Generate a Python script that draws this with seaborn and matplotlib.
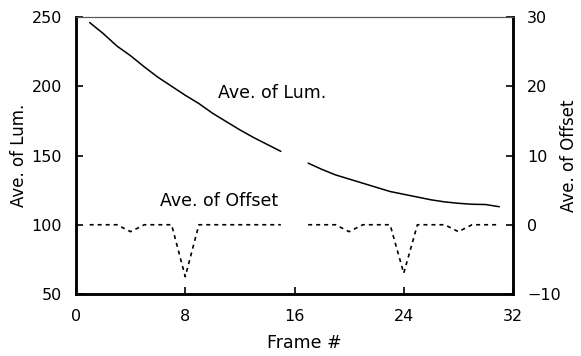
import numpy as np
import pandas as pd
import matplotlib
matplotlib.use("Agg")
import matplotlib.pyplot as plt
import seaborn as sns

# ---- data ----
frames_a = [1, 2, 3, 4, 5, 6, 7, 8, 9, 10, 11, 12, 13, 14, 15]
frames_b = [17, 18, 19, 20, 21, 22, 23, 24, 25, 26, 27, 28, 29, 30, 31]
lum_a = [246, 238, 229, 222, 214, 206.5, 200, 193.5, 187.5, 180.5, 174.5, 168.5, 163, 158, 153]
lum_b = [144.5, 140, 136, 133, 130, 127, 124, 122, 120, 118, 116.5, 115.5, 114.8, 114.6, 113]
off_a = [0, 0, 0, -1, 0, 0, 0, -7.5, 0, 0, 0, 0, 0, 0, 0]
off_b = [0, 0, 0, -1, 0, 0, 0, -7, 0, 0, 0, -1, 0, 0, 0]

x_ticks = [0, 8, 16, 24, 32]
lum_ticks = [50, 100, 150, 200, 250]
off_ticks = [-10, 0, 10, 20, 30]

df = pd.DataFrame({
    "frame": frames_a + frames_b,
    "lum": lum_a + lum_b,
    "off": off_a + off_b,
    "seg": ["a"] * len(frames_a) + ["b"] * len(frames_b),
})

sns.set_theme(style="white")
plt.rcParams["font.family"] = ["DejaVu Sans"]

fig = plt.figure(figsize=(5.81, 3.56), dpi=100)
ax = fig.add_axes([76 / 581, 1 - 294 / 356, (513 - 76) / 581, (294 - 17) / 356])
ax2 = ax.twinx()

sns.lineplot(data=df, x="frame", y="lum", units="seg", estimator=None,
             color="black", linewidth=1.1, ax=ax, legend=False)
sns.lineplot(data=df, x="frame", y="off", units="seg", estimator=None,
             color="black", linewidth=1.2, ax=ax2, legend=False)
for ln in ax2.lines:
    ln.set_dashes((2.4, 2.4))

ax.set_xlim(0, 32)
ax.set_ylim(50, 250)
ax2.set_ylim(-10, 30)
ax.set_xticks(x_ticks)
ax.set_yticks(lum_ticks)
ax2.set_yticks(off_ticks)

tfs = 11.5
lfs = 12.5
ax.set_xlabel("Frame #", fontsize=lfs, color="black")
ax.xaxis.set_label_coords((304 - 76) / 437, -0.145)
ax.set_ylabel("Ave. of Lum.", fontsize=12, color="black")
ax.yaxis.set_label_coords((28 - 76) / 437, 0.5)
ax2.set_ylabel("Ave. of Offset", fontsize=12, color="black")
ax2.yaxis.set_label_coords((560 - 76) / 437, 0.5)

for a in (ax, ax2):
    a.tick_params(direction="in", length=5, width=1.2, colors="black",
                  labelsize=tfs, pad=10)
    for side in ("left", "right", "bottom"):
        a.spines[side].set_linewidth(1.8)
        a.spines[side].set_color("black")
    a.spines["top"].set_linewidth(0.8)
    a.spines["top"].set_color("#555555")
    a.grid(False)
ax.tick_params(axis="x", top=False, bottom=True, pad=11)
ax2.tick_params(axis="y", right=True, left=False)
ax.tick_params(axis="y", left=True, right=False)

ax.text(10.4, 195, "Ave. of Lum.", fontsize=lfs, ha="left", va="center", color="black")
ax.text(6.15, 117, "Ave. of Offset", fontsize=lfs, ha="left", va="center", color="black")

fig.savefig("out.png", dpi=100)
